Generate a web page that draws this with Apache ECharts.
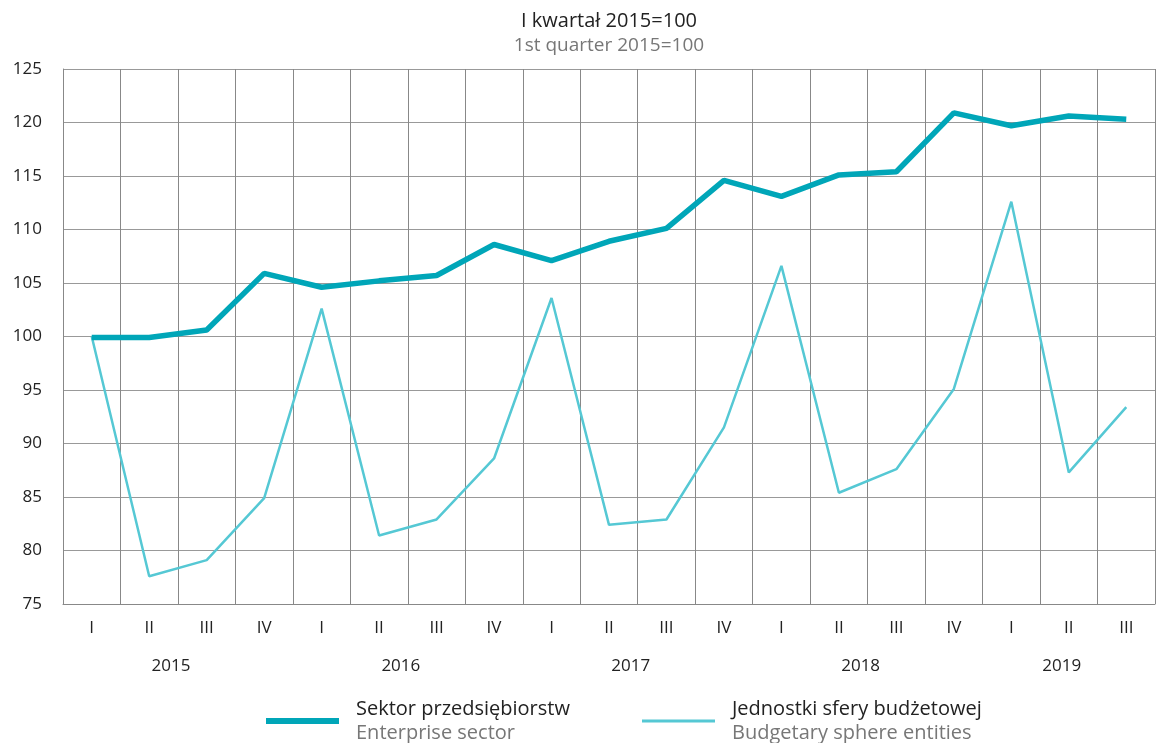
<!DOCTYPE html>
<html><head><meta charset="utf-8">
<script src="https://cdn.jsdelivr.net/npm/echarts@6/dist/echarts.min.js"></script>
<style>html,body{margin:0;padding:0;background:#fff}#c{width:1158px;height:743px}</style>
</head><body><div id="c"></div>
<script>
const quarters = ['I','II','III','IV','I','II','III','IV','I','II','III','IV','I','II','III','IV','I','II','III'];
const years = ['2015','2016','2017','2018','2019'];
const quartersPerYear = [4,4,4,4,3];
const enterprise = [99.9,99.9,100.6,105.9,104.6,105.2,105.7,108.6,107.1,108.9,110.1,114.6,113.1,115.1,115.4,120.9,119.7,120.6,120.3];
const budgetary = [100.0,77.6,79.1,84.9,102.6,81.4,82.9,88.6,103.6,82.4,82.9,91.5,106.6,85.4,87.6,95.1,112.6,87.3,93.4];
const yTicks = {min:75, max:125, interval:5};
const names = {
  ent: ['Sektor przedsiębiorstw','Enterprise sector'],
  bud: ['Jednostki sfery budżetowej','Budgetary sphere entities']
};

const yearPos = {};
let acc = 0;
years.forEach((y,i)=>{ yearPos[(acc + quartersPerYear[i]/2).toFixed(1)] = y; acc += quartersPerYear[i]; });

const FONT = 'Open Sans';
const c1 = '#00a6b8', c2 = '#55c8d4';
const chart = echarts.init(document.getElementById('c'));
const legendRich = {
  a:{fontFamily:FONT,fontSize:20,color:'#222',lineHeight:24,padding:[0,0,0,12]},
  b:{fontFamily:FONT,fontSize:20,color:'#777',lineHeight:24,padding:[0,0,0,12]}
};
chart.setOption({
  animation:false,
  title:{
    text:'I kwartał 2015=100', subtext:'1st quarter 2015=100',
    left:604, textAlign:'center', top:6, itemGap:5,
    textStyle:{fontFamily:FONT,fontSize:20,fontWeight:'normal',color:'#222'},
    subtextStyle:{fontFamily:FONT,fontSize:19,color:'#777'}
  },
  grid:{left:63, top:69, width:1098, bottom:139, containLabel:false},
  xAxis:[{
    type:'category', data:quarters, boundaryGap:true,
    axisLine:{show:true,lineStyle:{color:'#888',width:1}},
    axisTick:{show:false},
    axisLabel:{interval:0,margin:16,fontFamily:FONT,fontSize:17,color:'#222'},
    splitLine:{show:true,interval:0,lineStyle:{color:'#888',width:1}}
  },{
    type:'value', min:0, max:quarters.length, interval:0.5, position:'bottom',
    axisLine:{show:false}, axisTick:{show:false}, splitLine:{show:false},
    axisLabel:{margin:54,fontFamily:FONT,fontSize:17,color:'#222',padding:[0,14,0,0],
      showMinLabel:true, showMaxLabel:true,
      formatter:v=>yearPos[v.toFixed(1)]||''}
  }],
  yAxis:{
    type:'value', min:yTicks.min, max:yTicks.max, interval:yTicks.interval,
    axisLine:{show:true,lineStyle:{color:'#888',width:1}},
    axisTick:{show:false},
    axisLabel:{margin:21,fontFamily:FONT,fontSize:17,color:'#222'},
    splitLine:{show:true,lineStyle:{color:'#999',width:1}}
  },
  legend:[{
    data:[{name:names.ent[0],icon:'rect'}], left:261, top:694, itemWidth:73, itemHeight:6,
    formatter:()=>'{a|'+names.ent[0]+'}\n{b|'+names.ent[1]+'}',
    textStyle:{rich:legendRich}, selectedMode:false
  },{
    data:[{name:names.bud[0],icon:'rect'}], left:637, top:694, itemWidth:73, itemHeight:3,
    formatter:()=>'{a|'+names.bud[0]+'}\n{b|'+names.bud[1]+'}',
    textStyle:{rich:legendRich}, selectedMode:false
  }],
  series:[{
    name:names.bud[0], type:'line', data:budgetary, symbol:'none',
    lineStyle:{color:c2,width:2.5}, itemStyle:{color:c2}, z:2
  },{
    name:names.ent[0], type:'line', data:enterprise, symbol:'none',
    lineStyle:{color:c1,width:5.5}, itemStyle:{color:c1}, z:3
  }]
});
</script></body></html>
